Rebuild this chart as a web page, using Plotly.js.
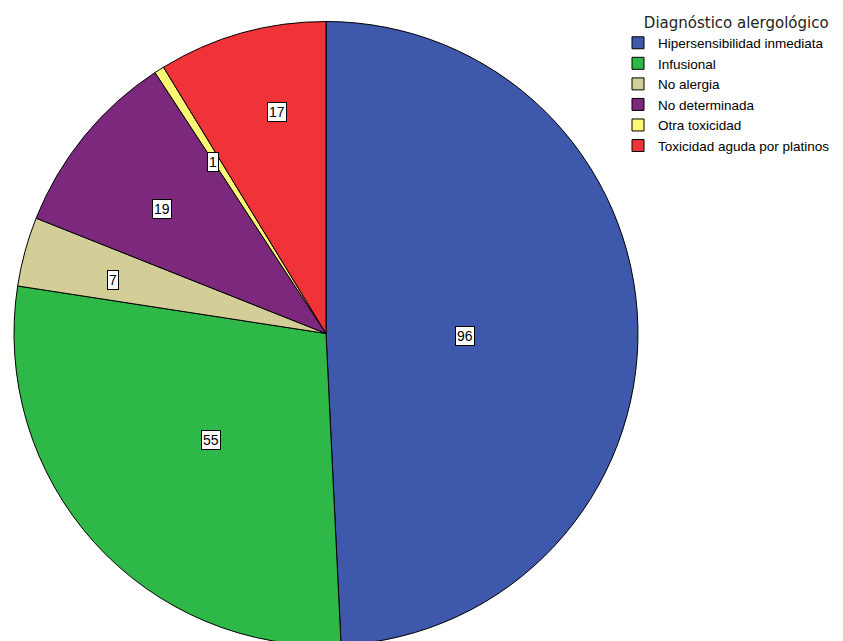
<!DOCTYPE html>
<html><head><meta charset="utf-8">
<script src="https://cdn.plot.ly/plotly-3.0.1.min.js"></script>
<style>html,body{margin:0;padding:0;overflow:hidden;background:#fff}</style>
</head><body><div id="chart"></div>
<script>
const categories = ["Hipersensibilidad inmediata","Infusional","No alergia","No determinada","Otra toxicidad","Toxicidad aguda por platinos"];
const counts = [96, 55, 7, 19, 1, 17];
const colors = ["#3E58AC","#2EB848","#D3CE97","#7C287D","#FBF873","#EF3338"];
const legendTitle = "\u00a0\u00a0\u00a0\u00a0\u00a0Diagnóstico alergológico";

const W = 843, H = 660;
const domX = [0.0166, 0.7568], domY = [0.0220, 0.9674];
const cx = (domX[0]+domX[1])/2*W, cy = (1-(domY[0]+domY[1])/2)*H;
const R = Math.min((domX[1]-domX[0])*W, (domY[1]-domY[0])*H)/2;
// label placement (style): radius fraction and small angular nudge in degrees
const labelRadius = [0.447, 0.503, 0.705, 0.66, 0.66, 0.728];
const labelNudge = [2.4, -0.8, -1.1, -2.2, -1.1, 3.2];

const total = counts.reduce((a,b)=>a+b,0);
let cum = 0;
const annotations = counts.map((v,i)=>{
  const mid = (cum + v/2)/total*2*Math.PI + labelNudge[i]*Math.PI/180; cum += v;
  const px = cx + R*labelRadius[i]*Math.sin(mid);
  const py = cy - R*labelRadius[i]*Math.cos(mid);
  return {x: px/W, y: 1-py/H, xref:'paper', yref:'paper', xanchor:'center', yanchor:'middle',
    text: String(v), showarrow:false,
    bgcolor:'#fff', bordercolor:'#000', borderwidth:1, borderpad:1,
    font:{family:'Liberation Sans, Arial', size:14, color:'#000'}};
});

Plotly.newPlot('chart', [{
  type:'pie', labels:categories, values:counts, sort:false, direction:'clockwise', rotation:0,
  marker:{colors:colors, line:{color:'#000', width:1}}, textinfo:'none', domain:{x:domX, y:domY}
}], {
  width:W, height:H, margin:{l:0,r:0,t:0,b:0}, paper_bgcolor:'#fff',
  showlegend:true,
  legend:{x:618/W, y:1-8/H, xanchor:'left', yanchor:'top', itemwidth:30, tracegroupgap:0,
    font:{family:'Liberation Sans, Arial', size:13.5, color:'#000'},
    title:{text:legendTitle, side:'top', font:{family:'DejaVu Sans', size:15, color:'#222'}}},
  annotations:annotations
}, {displayModeBar:false, staticPlot:true});
</script></body></html>
